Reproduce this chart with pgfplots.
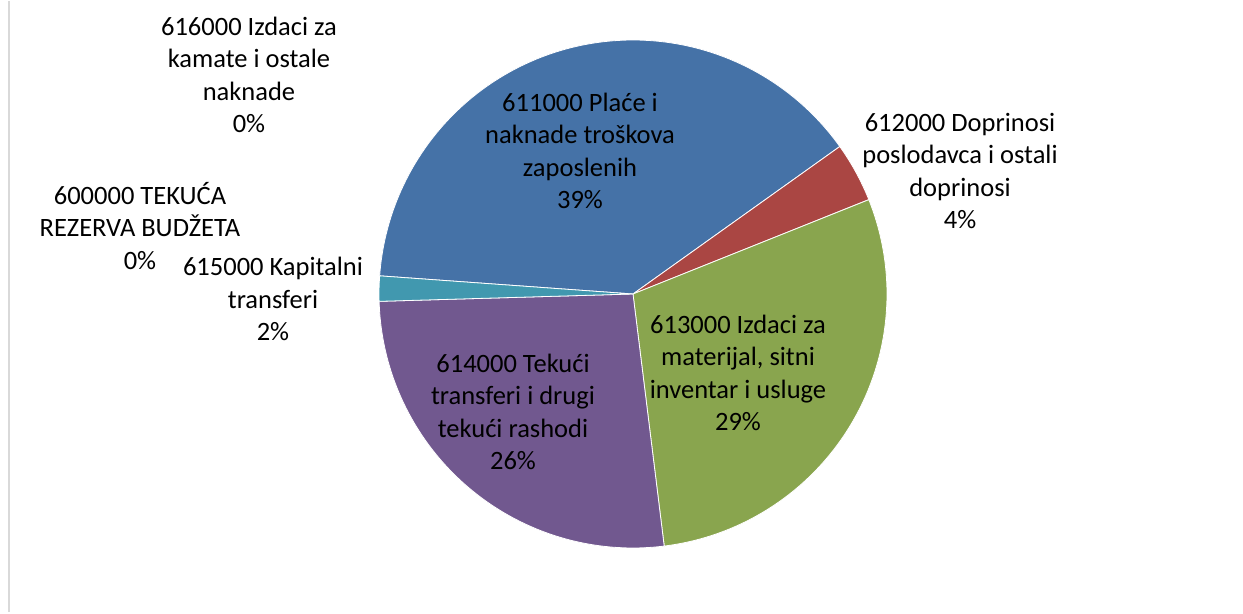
\documentclass[border=0pt]{standalone}
\usepackage{pgfplots}
\pgfplotsset{compat=1.18}
\usepackage{fontspec}
\setmainfont{Carlito}
\definecolor{cBlue}{HTML}{4572A7}
\definecolor{cRed}{HTML}{AA4643}
\definecolor{cGreen}{HTML}{89A54E}
\definecolor{cPurple}{HTML}{71588F}
\definecolor{cCyan}{HTML}{4198AF}
\tikzset{lbl/.style={font=\fontsize{26.6}{32.4}\selectfont, align=center, text=black, inner sep=0pt}}
% shares in percent (clockwise from the 615000/611000 boundary)
\def\vBlue{39.0}   % 611000
\def\vRed{3.8}     % 612000
\def\vGreen{29.1}  % 613000
\def\vPurple{26.5} % 614000
\def\vCyan{1.6}    % 615000
\pgfmathsetmacro\aA{175.9}
\pgfmathsetmacro\aB{\aA-\vBlue*3.6}
\pgfmathsetmacro\aC{\aB-\vRed*3.6}
\pgfmathsetmacro\aD{\aC-\vGreen*3.6}
\pgfmathsetmacro\aE{\aD-\vPurple*3.6}
\pgfmathsetmacro\aF{\aE-\vCyan*3.6}
\begin{document}
\begin{tikzpicture}
\begin{axis}[scale only axis, width=1243bp, height=611bp,
  xmin=0, xmax=1243, ymin=0, ymax=611, hide axis, clip=false]
\addplot[draw=none] coordinates {(0,0) (1243,611)};
\addplot[color=black!15, line width=2bp] coordinates {(9,0) (9,611)};
\addplot[fill=cBlue, draw=white, line width=0.8bp, domain=\aB:\aA, samples=120, variable=\t]
  ({633+254*cos(\t)},{318+254*sin(\t)}) -- (axis cs:633,318) -- cycle;
\addplot[fill=cRed, draw=white, line width=0.8bp, domain=\aC:\aB, samples=20, variable=\t]
  ({633+254*cos(\t)},{318+254*sin(\t)}) -- (axis cs:633,318) -- cycle;
\addplot[fill=cGreen, draw=white, line width=0.8bp, domain=\aD:\aC, samples=100, variable=\t]
  ({633+254*cos(\t)},{318+254*sin(\t)}) -- (axis cs:633,318) -- cycle;
\addplot[fill=cPurple, draw=white, line width=0.8bp, domain=\aE:\aD, samples=100, variable=\t]
  ({633+254*cos(\t)},{318+254*sin(\t)}) -- (axis cs:633,318) -- cycle;
\addplot[fill=cCyan, draw=white, line width=0.8bp, domain=\aF:\aE, samples=10, variable=\t]
  ({633+254*cos(\t)},{318+254*sin(\t)}) -- (axis cs:633,318) -- cycle;
\node[lbl] at (axis cs:580,461) {611000 Plaće i\\naknade troškova\\zaposlenih\\39\%};
\node[lbl] at (axis cs:960,441) {612000 Doprinosi\\poslodavca i ostali\\doprinosi\\4\%};
\node[lbl] at (axis cs:738,239) {613000 Izdaci za\\materijal, sitni\\inventar i usluge\\29\%};
\node[lbl] at (axis cs:513,200) {614000 Tekući\\transferi i drugi\\tekući rashodi\\26\%};
\node[lbl] at (axis cs:273,313) {615000 Kapitalni\\transferi\\2\%};
\node[lbl] at (axis cs:140,386) {600000 TEKUĆA\\REZERVA BUDŽETA\\0\%};
\node[lbl] at (axis cs:249,537) {616000 Izdaci za\\kamate i ostale\\naknade\\0\%};
\end{axis}
\end{tikzpicture}
\end{document}
